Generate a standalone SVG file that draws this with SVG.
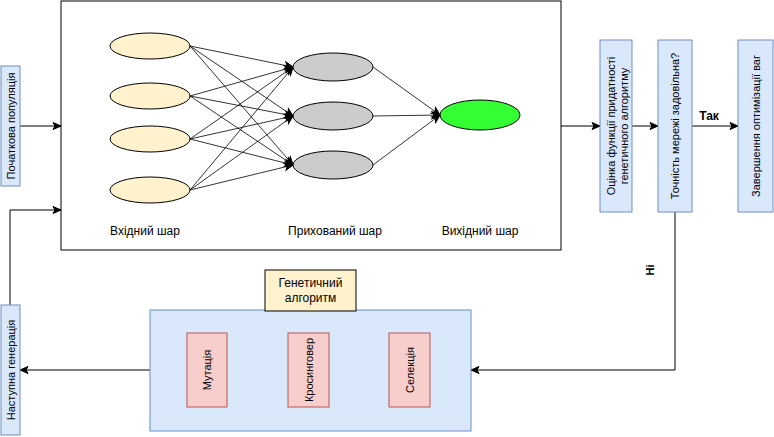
<svg xmlns="http://www.w3.org/2000/svg" width="774" height="437" viewBox="0 0 774 437">
<defs>
<marker id="arr" markerUnits="userSpaceOnUse" markerWidth="10" markerHeight="10" viewBox="0 0 10 10" refX="9" refY="5" orient="auto">
<path d="M1,1.5 L9,5 L1,8.5 L3,5 Z" fill="#000" stroke="#000" stroke-width="1"/>
</marker>
<style>
.t{font-family:"Liberation Sans",Arial,sans-serif;fill:#000}
.v{font-size:11px;text-anchor:middle}
.lbl{font-size:12px;text-anchor:middle}
.blue{fill:#dae8fc;stroke:#6c8ebf;stroke-width:1}
.red{fill:#f8cecc;stroke:#b85450;stroke-width:1}
.inp{fill:#fff2cc;stroke:#000;stroke-width:1}
.hid{fill:#cccccc;stroke:#000;stroke-width:1}
.out{fill:#33ff33;stroke:#000;stroke-width:1}
.c{stroke:#000;stroke-width:1;fill:none;marker-end:url(#arr)}
.thin{stroke:#000;stroke-width:0.8;fill:none;marker-end:url(#arr)}
</style>
</defs>
<rect width="774" height="437" fill="#fff"/>

<g id="main-box"><rect x="61" y="1" width="500" height="249" fill="#fff" stroke="#000" stroke-width="1"/></g>

<g id="connectors">
<line class="thin" x1="190" y1="46" x2="293" y2="67"/>
<line class="thin" x1="190" y1="46" x2="293" y2="116"/>
<line class="thin" x1="190" y1="46" x2="293" y2="165"/>
<line class="thin" x1="190" y1="96" x2="293" y2="67"/>
<line class="thin" x1="190" y1="96" x2="293" y2="116"/>
<line class="thin" x1="190" y1="96" x2="293" y2="165"/>
<line class="thin" x1="190" y1="139" x2="293" y2="67"/>
<line class="thin" x1="190" y1="139" x2="293" y2="116"/>
<line class="thin" x1="190" y1="139" x2="293" y2="165"/>
<line class="thin" x1="190" y1="190" x2="293" y2="67"/>
<line class="thin" x1="190" y1="190" x2="293" y2="116"/>
<line class="thin" x1="190" y1="190" x2="293" y2="165"/>
<line class="thin" x1="373" y1="67" x2="440" y2="115"/>
<line class="thin" x1="373" y1="116" x2="440" y2="115"/>
<line class="thin" x1="373" y1="165" x2="440" y2="115"/>
<line class="c" x1="20" y1="126" x2="61" y2="126"/>
<line class="c" x1="561" y1="126" x2="600" y2="126"/>
<line class="c" x1="632" y1="126" x2="658" y2="126"/>
<line class="c" x1="692" y1="126" x2="738" y2="126"/>
<polyline class="c" points="675,212 675,370 471,370"/>
<line class="c" x1="150" y1="370" x2="20" y2="370"/>
<line class="c" x1="389" y1="370" x2="329" y2="370"/>
<line class="c" x1="288" y1="370" x2="227" y2="370"/>
<polyline class="c" points="10,305 10,210 61,210"/>
<text class="t" x="709" y="120" font-size="12" font-weight="bold" text-anchor="middle">Так</text>
<text class="t" font-size="11" font-weight="bold" text-anchor="middle" transform="translate(654 270) rotate(-90)">Ні</text>
</g>

<g id="input-1"><ellipse class="inp" cx="150" cy="46" rx="40" ry="13"/></g>
<g id="input-2"><ellipse class="inp" cx="150" cy="96" rx="40" ry="13"/></g>
<g id="input-3"><ellipse class="inp" cx="150" cy="139" rx="40" ry="13"/></g>
<g id="input-4"><ellipse class="inp" cx="150" cy="190" rx="40" ry="13"/></g>
<g id="hidden-1"><ellipse class="hid" cx="333" cy="67" rx="40" ry="14"/></g>
<g id="hidden-2"><ellipse class="hid" cx="333" cy="116" rx="40" ry="14"/></g>
<g id="hidden-3"><ellipse class="hid" cx="333" cy="165" rx="40" ry="14"/></g>
<g id="output"><ellipse class="out" cx="480" cy="115" rx="40" ry="15"/></g>

<g id="label-input"><text class="t lbl" x="145" y="235">Вхідний шар</text></g>
<g id="label-hidden"><text class="t lbl" x="335" y="235">Прихований шар</text></g>
<g id="label-output"><text class="t lbl" x="480" y="235">Вихідний шар</text></g>

<g id="initial-population">
<rect class="blue" x="1" y="66" width="19" height="120"/>
<text class="t v" transform="translate(14.5 126) rotate(-90)">Початкова популяція</text>
</g>
<g id="fitness">
<rect class="blue" x="600" y="40" width="32" height="172"/>
<text class="t v" transform="translate(614.5 126) rotate(-90)">Оцінка функції придатності</text>
<text class="t v" transform="translate(627.5 126) rotate(-90)">генетичного алгоритму</text>
</g>
<g id="accuracy">
<rect class="blue" x="658" y="40" width="34" height="172"/>
<text class="t v" transform="translate(679 126) rotate(-90)">Точність мережі задовільна?</text>
</g>
<g id="finish">
<rect class="blue" x="738" y="40" width="35" height="172"/>
<text class="t v" transform="translate(759.5 126) rotate(-90)">Завершення оптимізації ваг</text>
</g>
<g id="next-generation">
<rect class="blue" x="1" y="305" width="19" height="130"/>
<text class="t v" transform="translate(14.5 370) rotate(-90)">Наступна генерація</text>
</g>

<g id="ga">
<rect class="blue" x="150" y="310" width="321" height="121"/>
</g>
<g id="ga-label">
<rect x="265" y="270" width="91" height="41" fill="#fff2cc" stroke="#000" stroke-width="1"/>
<text class="t lbl" x="310.5" y="287">Генетичний</text>
<text class="t lbl" x="310.5" y="302">алгоритм</text>
</g>
<g id="mutation">
<rect class="red" x="187" y="333" width="40" height="74"/>
<text class="t v" transform="translate(211 370) rotate(-90)">Мутація</text>
</g>
<g id="crossover">
<rect class="red" x="288" y="333" width="41" height="74"/>
<text class="t v" transform="translate(312.5 370) rotate(-90)">Кросинговер</text>
</g>
<g id="selection">
<rect class="red" x="389" y="333" width="41" height="74"/>
<text class="t v" transform="translate(413.5 370) rotate(-90)">Селекція</text>
</g>
</svg>
